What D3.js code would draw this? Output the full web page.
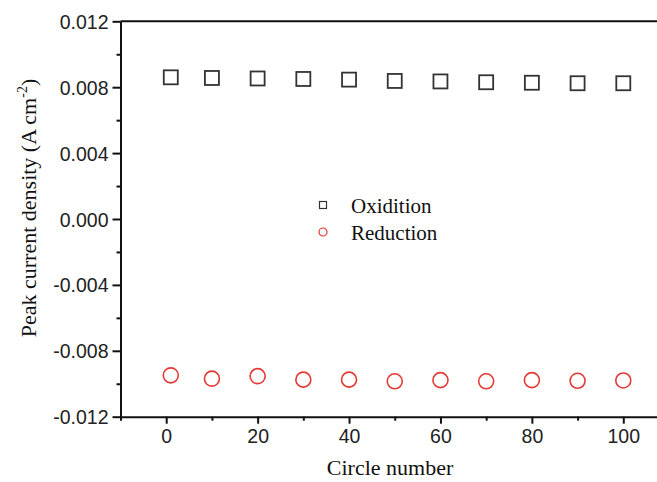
<!DOCTYPE html>
<meta charset="utf-8">
<style>
body { margin: 0; background: #fff; }
svg { display: block; }
.axis text { font-family: "Liberation Sans", Arial, sans-serif; font-size: 19.5px; fill: #222; }
.axis path, .axis line { stroke: #111; }
.title { font-family: "Liberation Serif", "Times New Roman", serif; font-size: 22px; fill: #111; }
</style>
<svg width="657" height="482"></svg>
<script src="https://cdn.jsdelivr.net/npm/d3@7"></script>
<script>
// cycle numbers
var cycles = [1, 10, 20, 30, 40, 50, 60, 70, 80, 90, 100]
// peak current density, A cm-2
var oxidation = [0.00860, 0.00856, 0.00853, 0.00850, 0.00846, 0.00838, 0.00835, 0.00830, 0.00827, 0.00824, 0.00824]
var reduction = [-0.00949, -0.00969, -0.00954, -0.00975, -0.00975, -0.00985, -0.00978, -0.00985, -0.00978, -0.00982, -0.00980]

var xTicks = [0, 20, 40, 60, 80, 100]
var xMinor = [-10, 10, 30, 50, 70, 90]
var yTicks = [-0.012, -0.008, -0.004, 0, 0.004, 0.008, 0.012]
var yMinor = [-0.010, -0.006, -0.002, 0.002, 0.006, 0.010]

var legendLabels = ["Oxidition", "Reduction"]

const svg = d3.select('svg')

const x = d3.scaleLinear().domain([-10, 110]).range([120.5, 669])
const y = d3.scaleLinear().domain([-0.012, 0.012]).range([416.7, 21.3])

// top border
svg.append('line')
	.attr('x1', x(-10)).attr('x2', x(110))
	.attr('y1', y(0.012)).attr('y2', y(0.012))
	.attr('stroke', '#111').attr('stroke-width', 2)
// right border (falls outside the crop)
svg.append('line')
	.attr('x1', x(110)).attr('x2', x(110))
	.attr('y1', y(0.012)).attr('y2', y(-0.012))
	.attr('stroke', '#111').attr('stroke-width', 2)

// minor ticks first
svg.append('g').attr('class', 'axis')
	.attr('transform', `translate(0,${y(-0.012)})`)
	.call(d3.axisBottom(x).tickValues(xMinor).tickSize(4).tickFormat('').tickSizeOuter(0))
	.call(g => g.select('.domain').remove())
	.selectAll('line').attr('stroke-width', 2)
svg.append('g').attr('class', 'axis')
	.attr('transform', `translate(${x(-10)},0)`)
	.call(d3.axisLeft(y).tickValues(yMinor).tickSize(4).tickFormat('').tickSizeOuter(0))
	.call(g => g.select('.domain').remove())
	.selectAll('line').attr('stroke-width', 2)

// major axes
var xAxis = svg.append('g').attr('class', 'axis')
	.attr('transform', `translate(0,${y(-0.012)})`)
	.call(d3.axisBottom(x).tickValues(xTicks).tickSize(7).tickPadding(5).tickSizeOuter(0))
xAxis.selectAll('line').attr('stroke-width', 2)
xAxis.select('.domain').attr('stroke-width', 2)

var yAxis = svg.append('g').attr('class', 'axis')
	.attr('transform', `translate(${x(-10)},0)`)
	.call(d3.axisLeft(y).tickValues(yTicks).tickSize(8).tickPadding(4).tickSizeOuter(0)
		.tickFormat(d => d.toFixed(3)))
yAxis.selectAll('line').attr('stroke-width', 2)
yAxis.select('.domain').attr('stroke-width', 2)
yAxis.selectAll('text').attr('dy', '0.36em')

// titles
svg.append('text').attr('class', 'title')
	.attr('x', 390).attr('y', 475)
	.attr('text-anchor', 'middle')
	.text('Circle number')

var yt = svg.append('text').attr('class', 'title')
	.attr('transform', 'translate(36,208) rotate(-90)')
	.attr('text-anchor', 'middle')
yt.append('tspan').text('Peak current density (A cm')
yt.append('tspan').attr('font-size', '14px').attr('dy', -9).text('-2')
yt.append('tspan').attr('dy', 9).text(')')

// data
const sq = 14
svg.append('g')
	.selectAll('rect')
	.data(cycles)
	.enter().append('rect')
	.attr('x', (d, i) => x(d) - sq / 2)
	.attr('y', (d, i) => y(oxidation[i]) - sq / 2)
	.attr('width', sq).attr('height', sq)
	.attr('fill', 'none')
	.attr('stroke', '#333')
	.attr('stroke-width', 1.8)

svg.append('g')
	.selectAll('circle')
	.data(cycles)
	.enter().append('circle')
	.attr('cx', d => x(d))
	.attr('cy', (d, i) => y(reduction[i]))
	.attr('r', 7.5)
	.attr('fill', 'none')
	.attr('stroke', '#e53935')
	.attr('stroke-width', 1.6)

// legend
var lg = svg.append('g').attr('transform', 'translate(323,205)')
lg.append('rect').attr('x', -3.5).attr('y', -3.5).attr('width', 7).attr('height', 7)
	.attr('fill', 'none').attr('stroke', '#333').attr('stroke-width', 1.2)
lg.append('circle').attr('cx', 0).attr('cy', 27).attr('r', 4)
	.attr('fill', 'none').attr('stroke', '#e53935').attr('stroke-width', 1.2)
lg.selectAll('text.lab')
	.data(legendLabels)
	.enter().append('text')
	.attr('class', 'title')
	.attr('x', 28)
	.attr('y', (d, i) => 7.5 + i * 27)
	.style('font-size', '21px')
	.text(d => d)
</script>
